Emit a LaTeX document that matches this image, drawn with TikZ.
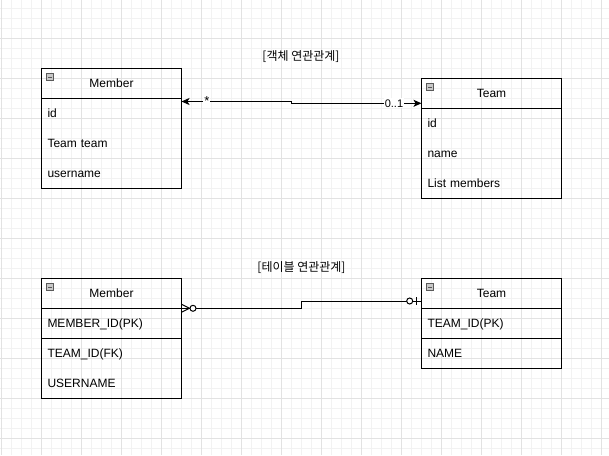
\documentclass[tikz,border=0pt]{standalone}
\usepackage{fontspec}
\setmainfont{Liberation Sans}
\newfontfamily\kofont{Noto Sans CJK KR}
\usetikzlibrary{arrows.meta,positioning,calc}
\definecolor{gridminor}{HTML}{F2F2F2}
\definecolor{gridmajor}{HTML}{E2E2E2}
\definecolor{iconfill}{HTML}{C8C8C8}
\definecolor{iconline}{HTML}{5A5A5A}

\begin{document}
\begin{tikzpicture}[x=1pt, y=-1pt, line width=1pt,
    >={Stealth[length=8pt, width=7pt, inset=2pt]},
    hdr/.style={anchor=north west, minimum width=140pt, minimum height=30pt, inner sep=0pt, outer sep=0pt, text height=8.6pt, text depth=0pt, font=\fontsize{12}{14}\selectfont},
    attr/.style={minimum width=140pt, minimum height=30pt, text width=128pt, inner xsep=6pt, inner ysep=0pt, outer sep=0pt, text height=8.6pt, text depth=0pt, align=left, font=\fontsize{12}{14}\selectfont},
    icon/.style={draw=iconline, fill=iconfill, line width=0.8pt, minimum size=6.5pt, inner sep=0pt,
        path picture={\draw[iconline, line width=1pt] ([xshift=1.4pt]path picture bounding box.west) -- ([xshift=-1.4pt]path picture bounding box.east);}},
    lbl/.style={fill=white, inner sep=1pt, font=\fontsize{13}{14}\selectfont},
    ttl/.style={font=\fontsize{12}{14}\selectfont\kofont}]

    \useasboundingbox (0,0) rectangle (609,455);
    \fill[white] (0,0) rectangle (609,455);

    % grid
    \foreach \gx in {1.5,11.5,...,609} \draw[gridminor] (\gx,0) -- (\gx,455);
    \foreach \gy in {8.3,18.3,...,455} \draw[gridminor] (0,\gy) -- (609,\gy);
    \foreach \gx in {1.5,41.5,...,609} \draw[gridmajor] (\gx,0) -- (\gx,455);
    \foreach \gy in {38.3,78.3,...,455} \draw[gridmajor] (0,\gy) -- (609,\gy);

    % titles
    \node[ttl] (objttl) at (301,57) {[객체 연관관계]};
    \node[ttl] (tblttl) at (301.5,268) {[테이블 연관관계]};

    % object Member
    \node[hdr] (om0) at (41.5,68.3) {Member};
    \node[attr, below=0pt of om0] (om1) {id};
    \node[attr, below=0pt of om1] (om2) {Team team};
    \node[attr, below=0pt of om2] (om3) {username};
    \draw (om0.north west) rectangle (om3.south east);
    \draw (om0.south west) -- (om0.south east);
    \node[icon] (omicon) at ($(om0.north west)+(8.5,8.7)$) {};

    % object Team
    \node[hdr] (ot0) at (421.5,78.3) {Team};
    \node[attr, below=0pt of ot0] (ot1) {id};
    \node[attr, below=0pt of ot1] (ot2) {name};
    \node[attr, below=0pt of ot2] (ot3) {List members};
    \draw (ot0.north west) rectangle (ot3.south east);
    \draw (ot0.south west) -- (ot0.south east);
    \node[icon] (oticon) at ($(ot0.north west)+(8.5,8.7)$) {};

    % table MEMBER
    \node[hdr] (tm0) at (41.5,278.3) {Member};
    \node[attr, below=0pt of tm0] (tm1) {MEMBER\_ID(PK)};
    \node[attr, below=0pt of tm1] (tm2) {TEAM\_ID(FK)};
    \node[attr, below=0pt of tm2] (tm3) {USERNAME};
    \draw (tm0.north west) rectangle (tm3.south east);
    \draw (tm0.south west) -- (tm0.south east);
    \draw (tm1.south west) -- (tm1.south east);
    \node[icon] (tmicon) at ($(tm0.north west)+(8.5,8.7)$) {};

    % table TEAM
    \node[hdr] (tt0) at (421.5,278.3) {Team};
    \node[attr, below=0pt of tt0] (tt1) {TEAM\_ID(PK)};
    \node[attr, below=0pt of tt1] (tt2) {NAME};
    \draw (tt0.north west) rectangle (tt2.south east);
    \draw (tt0.south west) -- (tt0.south east);
    \draw (tt1.south west) -- (tt1.south east);
    \node[icon] (tticon) at ($(tt0.north west)+(8.5,8.7)$) {};

    % object association
    \draw[<->] ([yshift=-3.2pt]om0.south east)
        -- node[lbl, pos=0.23] (omany) {*} ++(110,0)
        |- node[lbl, pos=0.894, font=\fontsize{11}{13}\selectfont] (oone) {0..1} ([yshift=5pt]ot0.south west);

    % table relation
    \coordinate (tmend) at (tm0.south east);
    \coordinate (ttend) at ([yshift=7.3pt]tt0.south west);
    \draw (tmend) -- ++(120,0) |- (ttend);
    \draw ([yshift=4pt]tmend) -- ([xshift=8pt]tmend) -- ([yshift=-4pt]tmend); % many
    \draw[fill=white] ([xshift=11.5pt]tmend) circle (3pt); % zero
    \draw[fill=white] ([xshift=-11.8pt]ttend) circle (3pt); % zero
    \draw ([xshift=-5pt, yshift=3.8pt]ttend) -- ([xshift=-5pt, yshift=-3.8pt]ttend); % one

\end{tikzpicture}
\end{document}
